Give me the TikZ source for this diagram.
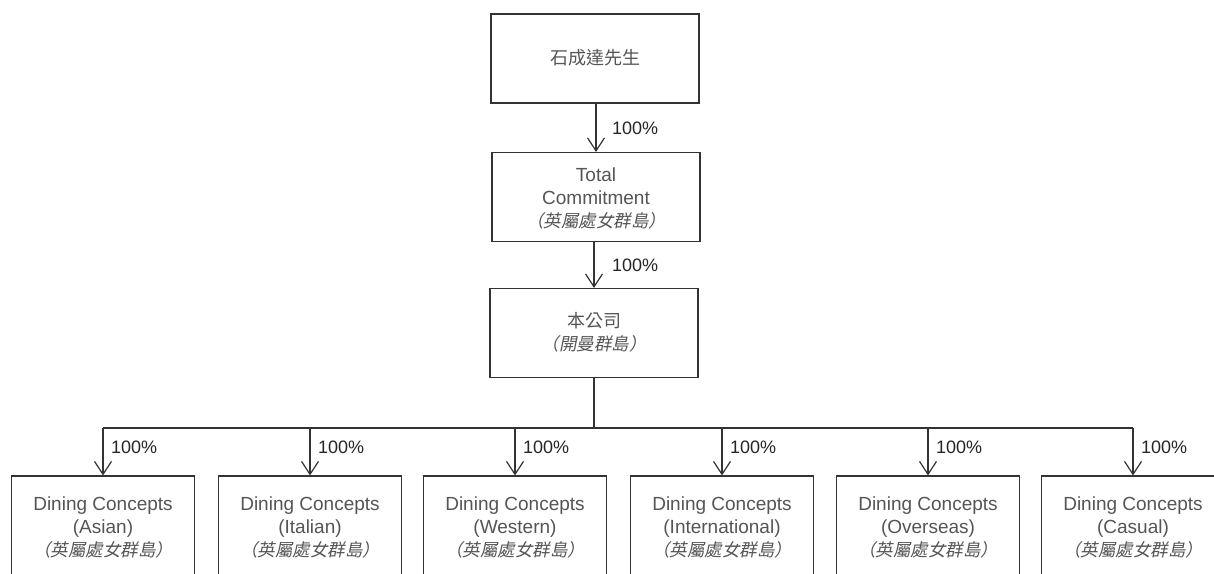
\documentclass[tikz,border=0pt]{standalone}
\usepackage{fontspec}
\setmainfont{Liberation Sans}
\newfontfamily\cjk{Noto Sans CJK TC}
\newfontfamily\cjkit[FakeSlant=0.2]{Noto Sans CJK TC}
\usetikzlibrary{arrows.meta}
\definecolor{linec}{HTML}{333333}
\definecolor{textc}{HTML}{555555}
\tikzset{
  box/.style={draw=linec, line width=1.1pt, rectangle, inner sep=0pt},
  topbox/.style={box, minimum width=208pt, minimum height=89pt},
  botbox/.style={box, minimum width=183pt, minimum height=160pt},
  txt/.style={text=textc, align=center, font=\fontsize{19}{23}\selectfont, inner sep=0pt},
  cjkline/.style={},
  pct/.style={text=black!85, font=\fontsize{18}{20}\selectfont, inner sep=0pt, anchor=west},
  conn/.style={draw=linec, line width=1.2pt},
  arr/.style={conn, -{Straight Barb[length=13pt,width=17pt,line width=1.2pt]}},
}
\newcommand{\itcjk}[1]{{\fontsize{17.5}{23}\selectfont\cjkit #1}}
\begin{document}
\begin{tikzpicture}[x=1pt,y=-1pt]
\useasboundingbox (0,0) rectangle (1214,573);
\clip (0,0) rectangle (1214,573);
\fill[white] (0,0) rectangle (1214,573);
% top boxes
\node[topbox] (a) at (595,58.5) {};
\node[txt] (ta) at (595,58) {\fontsize{18}{23}\selectfont\cjk 石成達先生};
\node[topbox] (b) at (596,197) {};
\node[txt] (tb) at (596,198) {Total\\Commitment\\\itcjk{（英屬處女群島）}};
\node[topbox] (c) at (594,333) {};
\node[txt] (tc) at (594,332) {{\fontsize{18}{23}\selectfont\cjk 本公司}\\\itcjk{（開曼群島）}};
% arrows top
\draw[arr] (a.south -| b.north) -- (b.north);
\node[pct] (p1) at (612,128) {100\%};
\draw[arr] (b.south -| c.north) -- (c.north);
\node[pct] (p2) at (612,265) {100\%};
% bottom boxes
\foreach \i/\x/\n in {1/103/Asian,2/310/Italian,3/515/Western,4/722/International,5/928/Overseas,6/1133/Casual}{
  \node[botbox] (d\i) at (\x,556) {};
  \node[txt] (t\i) at (\x,527) {Dining Concepts\\(\n)\\\itcjk{（英屬處女群島）}};
  \node[pct] (q\i) at (\x+8,447) {100\%};
}
\coordinate (bus) at (594,428);
\draw[conn] (c.south) -- (bus);
\draw[conn] (d1.north |- bus) -- (d6.north |- bus);
\foreach \i in {1,...,6}{
  \draw[arr] (d\i.north |- bus) -- (d\i.north);
}
\end{tikzpicture}
\end{document}
